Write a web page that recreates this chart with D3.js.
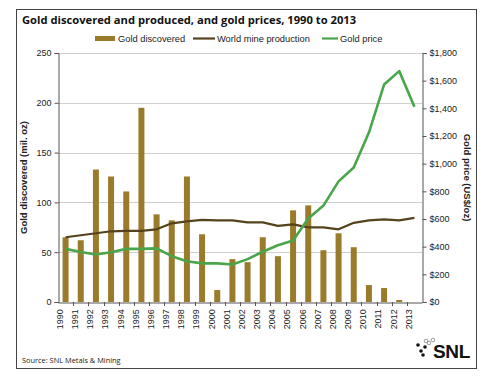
<!DOCTYPE html>
<html><head><meta charset="utf-8">
<script src="https://cdn.jsdelivr.net/npm/d3@7/dist/d3.min.js"></script>
<style>
body{margin:0;background:#fff;}
svg text{font-family:"Liberation Sans",Arial,sans-serif;}
</style></head>
<body><svg id="c" width="489" height="378"></svg>
<script>
const years = ["1990","1991","1992","1993","1994","1995","1996","1997","1998","1999","2000","2001","2002","2003","2004","2005","2006","2007","2008","2009","2010","2011","2012","2013"];
const goldDiscovered = [65,62,133,126,111,195,88,82,126,68,12,43,40,65,46,92,97,52,69,55,17,14,2,0];
const mineProduction = [65,67,69,71,71.5,71.5,73,79,81,82.5,82,82,80,80,76.5,78,75,75,73,79.5,82,83,82,84.5];
const goldPrice = [384,362,344,360,384,384,388,331,294,279,279,271,310,363,410,445,604,697,872,972,1225,1572,1669,1411];
const leftTicks = [0,50,100,150,200,250];
const rightTicks = [0,200,400,600,800,1000,1200,1400,1600,1800];

const svg = d3.select("#c");
const L=58, R=422, T=53, B=302;
const xb = d3.scaleBand().domain(years).range([L,R]);
const yL = d3.scaleLinear().domain([0,250]).range([B,T]);
const yR = d3.scaleLinear().domain([0,1800]).range([B,T]);

// frame
svg.append("rect").attr("x",16.5).attr("y",9.5).attr("width",460).attr("height",359).attr("fill","none").attr("stroke","#444").attr("stroke-width",1);

// title
svg.append("text").attr("x",22).attr("y",24).attr("font-size",11.2).attr("font-weight","bold").attr("fill","#111")
  .style("font-family","'Open Sans',sans-serif").text("Gold discovered and produced, and gold prices, 1990 to 2013");

// gridlines
svg.append("g").selectAll("line").data(leftTicks.slice(1)).join("line")
  .attr("x1",L).attr("x2",R).attr("y1",d=>Math.round(yL(d))+0.5).attr("y2",d=>Math.round(yL(d))+0.5)
  .attr("stroke","#cfcfcf").attr("stroke-width",1);

// bars
svg.append("g").selectAll("rect").data(goldDiscovered).join("rect")
  .attr("x",(d,i)=>xb(years[i])+xb.bandwidth()/2-3).attr("width",6)
  .attr("y",d=>yL(d)).attr("height",d=>B-yL(d)).attr("fill","#9a7b2b");

// lines
const cx = (d,i)=>xb(years[i])+xb.bandwidth()/2;
const lineL = d3.line().x(cx).y(d=>yL(d));
const lineR = d3.line().x(cx).y(d=>yR(d));
svg.append("path").datum(mineProduction).attr("d",lineL).attr("fill","none").attr("stroke","#56421c").attr("stroke-width",2.2).attr("stroke-linejoin","round");
svg.append("path").datum(goldPrice).attr("d",lineR).attr("fill","none").attr("stroke","#4aa54a").attr("stroke-width",2.6).attr("stroke-linejoin","round");

// axes
const axL = svg.append("g").attr("transform",`translate(${L+0.5},0)`).call(d3.axisLeft(yL).tickValues(leftTicks).tickSize(4).tickPadding(3));
const axR = svg.append("g").attr("transform",`translate(${R+0.5},0)`).call(d3.axisRight(yR).tickValues(rightTicks).tickSize(4).tickPadding(3)
  .tickFormat(d=>"$"+d3.format(",")(d)));
const axX = svg.append("g").attr("transform",`translate(0,${B+0.5})`).call(d3.axisBottom(xb).tickSize(0).tickPadding(4));
[axL,axR,axX].forEach(a=>{a.select(".domain").attr("stroke","#555");a.selectAll(".tick line").attr("stroke","#555");
  a.selectAll("text").attr("font-size",9).attr("fill","#222").style("font-family","'Liberation Sans',Arial,sans-serif");});
axX.selectAll(".tick text").attr("transform","rotate(-90)").attr("text-anchor","end").attr("dx","-0.3em").attr("dy","-0.3em").attr("y",0).attr("x",-4);
// category separators on x axis
svg.append("g").selectAll("line").data(years.slice(1)).join("line")
  .attr("x1",d=>Math.round(xb(d))+0.5).attr("x2",d=>Math.round(xb(d))+0.5).attr("y1",B).attr("y2",B+4).attr("stroke","#555");

// axis titles
svg.append("text").attr("transform",`translate(27,${(T+B)/2}) rotate(-90)`).attr("text-anchor","middle")
  .attr("font-size",9.5).attr("font-weight","bold").attr("fill","#222").text("Gold discovered (mil. oz)");
svg.append("text").attr("transform",`translate(464,${(T+B)/2}) rotate(90)`).attr("text-anchor","middle")
  .attr("font-size",9.5).attr("font-weight","bold").attr("fill","#222").text("Gold price (US$/oz)");

// legend
const lg = svg.append("g").attr("font-size",9.3).attr("fill","#222");
lg.append("rect").attr("x",95).attr("y",36).attr("width",20).attr("height",5).attr("fill","#9a7b2b");
lg.append("text").attr("x",118).attr("y",42).text("Gold discovered");
lg.append("line").attr("x1",193).attr("x2",215).attr("y1",38.5).attr("y2",38.5).attr("stroke","#56421c").attr("stroke-width",2.2);
lg.append("text").attr("x",217).attr("y",42).text("World mine production");
lg.append("line").attr("x1",322).attr("x2",338).attr("y1",38.5).attr("y2",38.5).attr("stroke","#4aa54a").attr("stroke-width",2.2);
lg.append("text").attr("x",340).attr("y",42).text("Gold price");

// source
svg.append("text").attr("x",22).attr("y",363).attr("font-size",7.4).attr("fill","#222").style("font-family","'Open Sans',sans-serif").text("Source: SNL Metals & Mining");

// logo
const lgo = svg.append("g");
[[418,345,1],[421,351,1],[425,347,1],[423,355,1],[429,343,0],[433,340,0],[426,341,0],[419,350,0]].slice(0,7).forEach(p=>{
  lgo.append("circle").attr("cx",p[0]).attr("cy",p[1]).attr("r",1.8).attr("fill",p[2]?"#111":"#fff").attr("stroke",p[2]?"none":"#777").attr("stroke-width",0.7);
});
lgo.append("text").attr("x",433).attr("y",358).attr("font-size",19).attr("font-weight","bold").attr("fill","#111").attr("letter-spacing",-0.3).text("SNL");
</script></body></html>
